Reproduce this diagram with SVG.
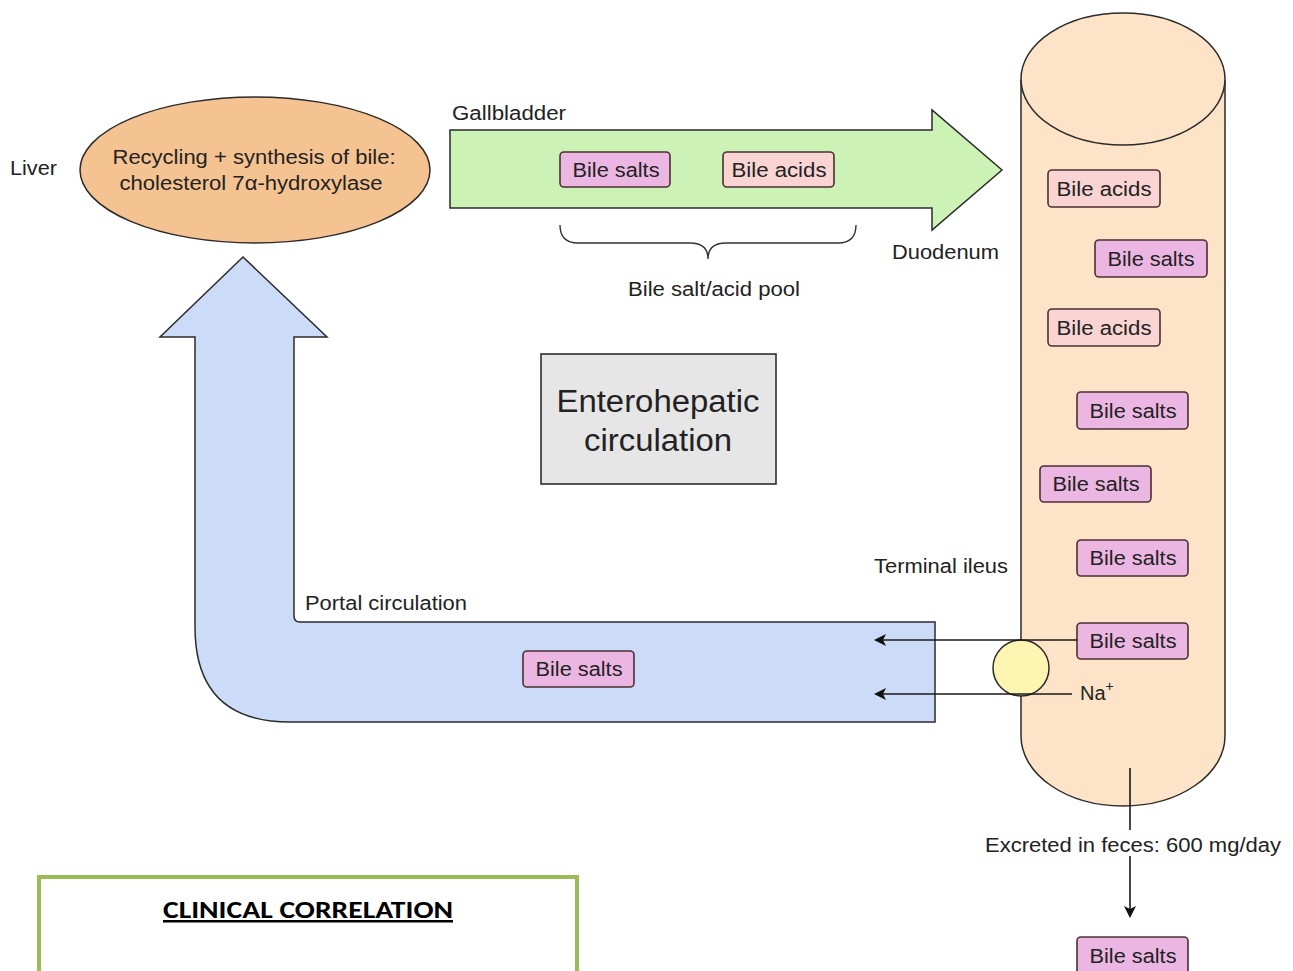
<svg xmlns="http://www.w3.org/2000/svg" width="1293" height="971" viewBox="0 0 1293 971">
  <style>
    .t { font-family: "Liberation Sans", Arial, sans-serif; fill: #222; }
    .lbl { font-size: 20px; }
    .pill { stroke: #4a3030; stroke-width: 1.6; }
    .salt { fill: #ebb7e2; }
    .acid { fill: #f9d4d2; }
    .outline { stroke: #2b2b2b; stroke-width: 1.5; }
    .wire { stroke: #1a1a1a; stroke-width: 1.6; fill: none; }
  </style>
  <defs>
    <marker id="arrow" viewBox="0 0 12 12" refX="10" refY="6" markerWidth="12" markerHeight="12" markerUnits="userSpaceOnUse" orient="auto">
      <path d="M0,0 L12,6 L0,12 L3,6 Z" fill="#111"/>
    </marker>
  </defs>
  <rect width="1293" height="971" fill="#ffffff"/>

  <!-- liver -->
  <g id="liver">
    <text class="t lbl" x="10" y="175" textLength="47" lengthAdjust="spacingAndGlyphs">Liver</text>
    <ellipse cx="255" cy="170" rx="175" ry="73" fill="#f5c391" class="outline"/>
    <text class="t" font-size="20" text-anchor="middle" x="254" y="164" textLength="283" lengthAdjust="spacingAndGlyphs">Recycling + synthesis of bile:</text>
    <text class="t" font-size="20" text-anchor="middle" x="251" y="190" textLength="263" lengthAdjust="spacingAndGlyphs">cholesterol 7α-hydroxylase</text>
  </g>

  <!-- gallbladder flow -->
  <g id="gallbladder">
    <text class="t lbl" x="452" y="120" textLength="114" lengthAdjust="spacingAndGlyphs">Gallbladder</text>
    <path d="M450,130 L932,130 L932,110 L1002,170 L932,230 L932,208 L450,208 Z" fill="#cdf2b6" class="outline"/>
    <rect class="pill salt" x="560" y="152" width="110" height="35" rx="4"/>
    <text class="t lbl" text-anchor="middle" x="616" y="177" textLength="87" lengthAdjust="spacingAndGlyphs">Bile salts</text>
    <rect class="pill acid" x="723" y="152" width="111" height="35" rx="4"/>
    <text class="t lbl" text-anchor="middle" x="779" y="177" textLength="95" lengthAdjust="spacingAndGlyphs">Bile acids</text>
  </g>

  <!-- pool brace -->
  <g id="pool">
    <path d="M560,225 Q560,243 578,243 L690,243 Q708,243 708,259 Q708,243 726,243 L838,243 Q856,243 856,225" fill="none" stroke="#333" stroke-width="1.4"/>
    <text class="t lbl" text-anchor="middle" x="714" y="296" textLength="172" lengthAdjust="spacingAndGlyphs">Bile salt/acid pool</text>
  </g>

  <text class="t lbl" x="892" y="259" textLength="107" lengthAdjust="spacingAndGlyphs">Duodenum</text>

  <!-- intestine -->
  <g id="intestine">
    <path d="M1021,80 L1021,736 A102,70 0 0 0 1225,736 L1225,80" fill="#fde3c7" class="outline"/>
    <ellipse cx="1123" cy="79" rx="102" ry="66" fill="#fde3c7" class="outline"/>
    <rect class="pill acid" x="1048" y="170" width="112" height="37" rx="4"/>
    <text class="t lbl" text-anchor="middle" x="1104" y="196" textLength="95" lengthAdjust="spacingAndGlyphs">Bile acids</text>
    <rect class="pill salt" x="1095" y="240" width="112" height="37" rx="4"/>
    <text class="t lbl" text-anchor="middle" x="1151" y="266" textLength="87" lengthAdjust="spacingAndGlyphs">Bile salts</text>
    <rect class="pill acid" x="1048" y="309" width="112" height="37" rx="4"/>
    <text class="t lbl" text-anchor="middle" x="1104" y="335" textLength="95" lengthAdjust="spacingAndGlyphs">Bile acids</text>
    <rect class="pill salt" x="1077" y="392" width="111" height="37" rx="4"/>
    <text class="t lbl" text-anchor="middle" x="1133" y="418" textLength="87" lengthAdjust="spacingAndGlyphs">Bile salts</text>
    <rect class="pill salt" x="1040" y="466" width="111" height="36" rx="4"/>
    <text class="t lbl" text-anchor="middle" x="1096" y="491" textLength="87" lengthAdjust="spacingAndGlyphs">Bile salts</text>
    <rect class="pill salt" x="1077" y="540" width="111" height="36" rx="4"/>
    <text class="t lbl" text-anchor="middle" x="1133" y="565" textLength="87" lengthAdjust="spacingAndGlyphs">Bile salts</text>
    <rect class="pill salt" x="1077" y="623" width="111" height="36" rx="4"/>
    <text class="t lbl" text-anchor="middle" x="1133" y="648" textLength="87" lengthAdjust="spacingAndGlyphs">Bile salts</text>
  </g>

  <text class="t lbl" x="874" y="573" textLength="134" lengthAdjust="spacingAndGlyphs">Terminal ileus</text>

  <!-- portal return -->
  <g id="portal">
    <path d="M935,622 L300,622 Q294,622 294,616 L294,337 L327,337 L243,257 L160,337 L195,337 L195,627 Q195,722 290,722 L935,722 Z" fill="#ccdcf8" class="outline"/>
    <text class="t lbl" x="305" y="610" textLength="162" lengthAdjust="spacingAndGlyphs">Portal circulation</text>
    <rect class="pill salt" x="523" y="651" width="111" height="36" rx="4"/>
    <text class="t lbl" text-anchor="middle" x="579" y="676" textLength="87" lengthAdjust="spacingAndGlyphs">Bile salts</text>
  </g>

  <!-- transporter -->
  <g id="transporter">
    <circle cx="1021" cy="668" r="28" fill="#fff5b3" class="outline"/>
    <text class="t lbl" x="1080" y="700">Na<tspan font-size="14" dy="-9">+</tspan></text>
  </g>

  <g id="connectors">
    <line class="wire" x1="1077" y1="640" x2="876" y2="640" marker-end="url(#arrow)"/>
    <line class="wire" x1="1072" y1="694" x2="876" y2="694" marker-end="url(#arrow)"/>
    <line class="wire" x1="1130" y1="768" x2="1130" y2="916" marker-end="url(#arrow)"/>
  </g>

  <!-- excretion -->
  <g id="excretion">
    <rect x="982" y="830" width="302" height="26" fill="#ffffff"/>
    <text class="t lbl" text-anchor="middle" x="1133" y="852" textLength="296" lengthAdjust="spacingAndGlyphs">Excreted in feces: 600 mg/day</text>
    <rect class="pill salt" x="1077" y="937" width="111" height="40" rx="4"/>
    <text class="t lbl" text-anchor="middle" x="1133" y="963" textLength="87" lengthAdjust="spacingAndGlyphs">Bile salts</text>
  </g>

  <!-- title box -->
  <g id="title">
    <rect x="541" y="354" width="235" height="130" fill="#e6e6e6" stroke="#222" stroke-width="1.5"/>
    <text class="t" font-size="31" text-anchor="middle" x="658" y="412" textLength="203" lengthAdjust="spacingAndGlyphs">Enterohepatic</text>
    <text class="t" font-size="31" text-anchor="middle" x="658" y="451" textLength="148" lengthAdjust="spacingAndGlyphs">circulation</text>
  </g>

  <!-- clinical correlation panel -->
  <g id="clinical">
    <rect x="39" y="877" width="538" height="110" fill="#ffffff" stroke="#9bbb59" stroke-width="4"/>
    <text font-family="Carlito, 'Open Sans', 'Liberation Sans', sans-serif" font-weight="bold" font-size="25" text-anchor="middle" x="308" y="918" fill="#000" text-decoration="underline" textLength="290" lengthAdjust="spacingAndGlyphs">CLINICAL CORRELATION</text>
  </g>
</svg>
